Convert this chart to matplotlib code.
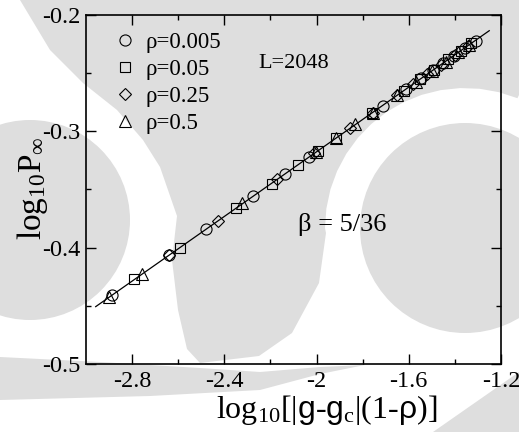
import matplotlib
matplotlib.use("Agg")
import matplotlib.pyplot as plt
from matplotlib.patches import Circle, Polygon
from matplotlib.transforms import Affine2D
import numpy as np

plt.rcParams['font.family'] = ['Liberation Serif', 'DejaVu Serif']
plt.rcParams['mathtext.fontset'] = 'custom'
plt.rcParams['mathtext.rm'] = 'Liberation Serif'
plt.rcParams['mathtext.it'] = 'Liberation Serif:italic'
plt.rcParams['mathtext.sf'] = 'Liberation Sans'
plt.rcParams['axes.unicode_minus'] = False

# datos
x_rho0005 = [-2.889, -2.639, -2.481, -2.274, -2.137, -2.032, -1.713, -1.612,
             -1.545, -1.495, -1.450, -1.404, -1.356, -1.310]
y_rho0005 = [-0.441, -0.406, -0.384, -0.356, -0.337, -0.322, -0.278, -0.264,
             -0.254, -0.247, -0.241, -0.235, -0.228, -0.222]

x_rho005 = [-2.790, -2.592, -2.349, -2.195, -2.082, -1.993, -1.917, -1.760,
            -1.620, -1.550, -1.490, -1.430, -1.375, -1.330]
y_rho005 = [-0.427, -0.400, -0.366, -0.345, -0.329, -0.317, -0.306, -0.284,
            -0.265, -0.255, -0.247, -0.238, -0.231, -0.224]

x_rho025 = [-2.640, -2.426, -2.170, -2.010, -1.855, -1.757, -1.651, -1.580,
            -1.520, -1.460, -1.400, -1.345]
y_rho025 = [-0.406, -0.377, -0.341, -0.319, -0.297, -0.284, -0.269, -0.259,
            -0.251, -0.243, -0.234, -0.227]

x_rho05 = [-2.900, -2.759, -2.322, -2.003, -1.917, -1.834, -1.757, -1.651,
           -1.570, -1.500, -1.440, -1.385, -1.340]
y_rho05 = [-0.442, -0.423, -0.362, -0.318, -0.306, -0.294, -0.284, -0.269,
           -0.258, -0.248, -0.240, -0.232, -0.226]

# recta de ajuste, pendiente beta = 5/36
fit_x = [-2.958, -1.251]
fit_y = [-0.4507, -0.2135]

series_labels = ['ρ=0.005', 'ρ=0.05', 'ρ=0.25', 'ρ=0.5']
xticks = [-2.8, -2.4, -2.0, -1.6, -1.2]
xtick_labels = ['-2.8', '-2.4', '-2', '-1.6', '-1.2']
yticks = [-0.5, -0.4, -0.3, -0.2]
ytick_labels = ['-0.5', '-0.4', '-0.3', '-0.2']

W, H = 519, 432
GRIS = '#dedede'
fig = plt.figure(figsize=(W / 100, H / 100), dpi=100, facecolor='white')

# marca de agua de fondo (pixeles, y hacia abajo)
px = Affine2D().scale(1 / W, -1 / H).translate(0, 1) + fig.transFigure
ang = np.radians(np.linspace(180, 68, 15))
arco_b = [(465 + 140 * np.cos(a), 228 - 140 * np.sin(a)) for a in ang]
zona_m = ([(20, 0), (50, 50), (83, 83), (117, 110), (143, 140), (160, 167),
           (177, 216), (172, 260), (178, 310), (187, 349), (200, 363),
           (259, 356), (292, 333), (319, 283), (326, 233)]
          + arco_b + [(519, 95), (519, 0)])
fondo = [
    Polygon(zona_m, color=GRIS),
    Circle((30, 220), 100, color=GRIS),
    Circle((465, 228), 105, color=GRIS),
    Polygon([(0, 357), (100, 362), (200, 368), (260, 372), (320, 367),
             (365, 365), (320, 374), (260, 390), (150, 396), (0, 400)],
            color=GRIS),
    Polygon([(519, 372), (519, 432), (433, 432)], color=GRIS),
]
for p in fondo:
    p.set_transform(px)
    p.set_zorder(-10)
    p.set_linewidth(0)
    fig.add_artist(p)

ax = fig.add_axes([86 / W, 1 - 364 / H, (501 - 86) / W, (364 - 15) / H])
ax.set_facecolor('none')

ax.plot(fit_x, fit_y, color='black', lw=0.9, zorder=2)

estilo = dict(linestyle='none', mfc='none', mec='black', mew=0.8, zorder=3)
ax.plot(x_rho0005, y_rho0005, marker='o', ms=8, label=series_labels[0], **estilo)
ax.plot(x_rho005, y_rho005, marker='s', ms=7, label=series_labels[1], **estilo)
ax.plot(x_rho025, y_rho025, marker='D', ms=6.5, label=series_labels[2], **estilo)
ax.plot(x_rho05, y_rho05, marker='^', ms=8.5, label=series_labels[3], **estilo)

ax.set_xlim(-3.0, -1.2)
ax.set_ylim(-0.5, -0.2)
ax.set_xticks(xticks)
ax.set_xticklabels(xtick_labels)
ax.set_xticks([-2.6, -2.2, -1.8, -1.4], minor=True)
ax.set_yticks(yticks)
ax.set_yticklabels(ytick_labels)
ax.set_yticks([-0.45, -0.35, -0.25], minor=True)
ax.tick_params(which='both', direction='in', top=True, right=True,
               labelsize=17.5, width=1.0)
ax.tick_params(which='major', length=7.5)
ax.tick_params(which='minor', length=3.8)
ax.tick_params(axis='x', pad=5)
ax.tick_params(axis='y', pad=4)
for s in ax.spines.values():
    s.set_linewidth(1.2)

ax.legend(loc='upper left', bbox_to_anchor=(0.067, 0.95), frameon=False,
          fontsize=16.5, handlelength=1.0, handletextpad=0.4,
          labelspacing=0.26, borderaxespad=0, borderpad=0)

ax.text(-2.254, -0.2417, 'L=2048', fontsize=16, va='center', ha='left')
ax.text(-2.081, -0.3797, 'β = 5/36', fontsize=19, va='center', ha='left')

fig.text(327 / W, 1 - 418 / H,
         r'$\mathrm{log}_{10}[|\mathsf{g}\text{-}\mathsf{g}_\mathrm{c}|(1\text{-}\mathsf{ρ})]$',
         fontsize=23, ha='center', va='baseline')
fig.text(33 / W, 1 - 188 / H, r'$\mathrm{log}_{10}\mathrm{P}_{\infty}$',
         fontsize=24, rotation=90, ha='center', va='center')

fig.savefig('out.png', dpi=100, facecolor='white')
